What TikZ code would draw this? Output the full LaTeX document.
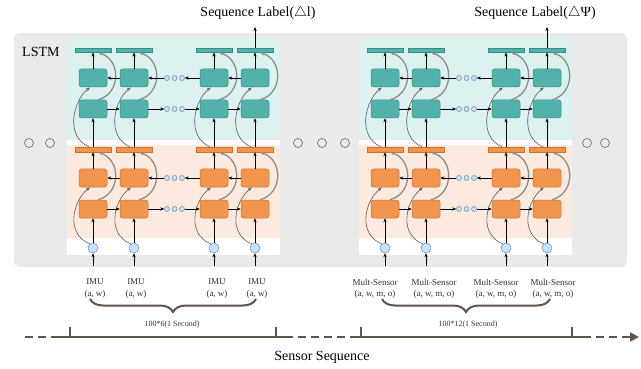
\documentclass[tikz,border=0pt]{standalone}
\usepackage{fontspec}
\setmainfont{Liberation Serif}
\usetikzlibrary{arrows.meta,calc,decorations.pathreplacing}
\definecolor{tealc}{RGB}{82,178,170}
\definecolor{teald}{RGB}{52,140,134}
\definecolor{tealbg}{RGB}{222,241,241}
\definecolor{orc}{RGB}{240,148,78}
\definecolor{ord}{RGB}{205,112,52}
\definecolor{orbg}{RGB}{252,234,222}
\definecolor{panelc}{RGB}{234,234,234}
\definecolor{incf}{RGB}{204,224,242}
\definecolor{incd}{RGB}{110,140,176}
\definecolor{brn}{RGB}{96,84,78}
\begin{document}
\begin{tikzpicture}[x=1pt,y=-1pt,
  tbox/.style={rectangle,rounded corners=2.5pt,minimum width=28pt,minimum height=18pt,fill=tealc,draw=teald,line width=.5pt,inner sep=0pt},
  obox/.style={rectangle,rounded corners=2.5pt,minimum width=28pt,minimum height=18pt,fill=orc,draw=ord,line width=.5pt,inner sep=0pt},
  tbar/.style={rectangle,minimum width=36pt,minimum height=4.5pt,fill=tealc,draw=teald,line width=.4pt,inner sep=0pt},
  obar/.style={rectangle,minimum width=36pt,minimum height=5pt,fill=orc,draw=ord,line width=.4pt,inner sep=0pt},
  inc/.style={circle,minimum size=10pt,inner sep=0pt,fill=incf,draw=incd,line width=.5pt},
  dotc/.style={circle,minimum size=5pt,inner sep=0pt,fill=incf,draw=incd,line width=.5pt},
  hol/.style={circle,minimum size=9pt,inner sep=0pt,draw=black!60,line width=.6pt},
  arr/.style={-{Stealth[length=4pt,width=3.2pt]},line width=.6pt,black},
  lcurve/.style={-{Latex[open,length=4pt,width=3.5pt]},line width=.6pt,black!65},
  rcurve/.style={-{Latex[open,length=4pt,width=3.5pt]},line width=1.3pt,black!45},
  lab/.style={font=\fontsize{9}{10}\selectfont,inner sep=0pt,text=black!80},
  big/.style={font=\fontsize{14}{16}\selectfont,inner sep=0pt},
  tline/.style={line width=2.8pt,brn},
  tdash/.style={line width=2.8pt,brn,dash pattern=on 8pt off 5pt},
  bracest/.style={decorate,decoration={brace,amplitude=13pt,mirror},line width=2pt,brn}
]
\useasboundingbox (0,0) rectangle (641,369);
\fill[white] (0,0) rectangle (641,369);
\fill[panelc,rounded corners=6pt] (14,33) rectangle (627,267);
\node[big,anchor=west] (lstm) at (22,52) {LSTM};
\foreach \p/\x in {h1/29,h2/50,h3/298,h4/322,h5/345,h6/587,h7/605}{
  \node[hol] (\p) at (\x,143) {};
}
\foreach \m/\o in {L/0,R/292}{
  \fill[tealbg] (67+\o,37) rectangle (280+\o,140);
  \fill[white] (67+\o,140) rectangle (280+\o,255);
  \fill[orbg] (67+\o,145) rectangle (280+\o,238);
  \foreach \c/\x in {1/93,2/134,3/214,4/255}{
    \node[inc] (\m-in-\c) at (\x+\o,248) {};
    \node[obox] (\m-ol-\c) at (\x+\o,209) {};
    \node[obox] (\m-ou-\c) at (\x+\o,178) {};
    \node[obar] (\m-ob-\c) at (\x+\o,149.5) {};
    \node[tbox] (\m-tl-\c) at (\x+\o,109) {};
    \node[tbox] (\m-tu-\c) at (\x+\o,78) {};
    \node[tbar] (\m-tb-\c) at (\x+\o,50) {};
    \coordinate (\m-src-\c) at (\x+\o,266);
    \draw[arr] (\m-src-\c) -- (\m-in-\c);
    \draw[arr] (\m-in-\c) -- (\m-ol-\c);
    \draw[arr] (\m-ou-\c) -- (\m-ob-\c);
    \draw[arr] (\m-ob-\c) -- (\m-tl-\c);
    \draw[arr] (\m-tu-\c) -- (\m-tb-\c);
    % curves orange
    \draw[lcurve] ($(\m-in-\c)+(-3,-4)$) .. controls ($(\m-in-\c)+(-28,-14)$) and ($(\m-ou-\c.south)+(-20,14)$) .. ($(\m-ou-\c.south)+(-3,0)$);
    \draw[rcurve] ($(\m-ol-\c.north)+(5,0)$) .. controls ($(\m-ol-\c.north)+(28,-6)$) and ($(\m-ob-\c.south)+(28,8)$) .. ($(\m-ob-\c.south)+(5,0)$);
    % curves teal
    \draw[lcurve] ($(\m-ob-\c.north)+(-4,0)$) .. controls ($(\m-ob-\c.north)+(-28,-10)$) and ($(\m-tu-\c.south)+(-20,14)$) .. ($(\m-tu-\c.south)+(-3,0)$);
    \draw[rcurve] ($(\m-tl-\c.north)+(5,0)$) .. controls ($(\m-tl-\c.north)+(28,-6)$) and ($(\m-tb-\c.south)+(28,8)$) .. ($(\m-tb-\c.south)+(5,0)$);
  }
  \foreach \r/\y in {ol/209,ou/178,tl/109,tu/78}{
    \node[dotc] (\m-\r-d1) at (167+\o,\y) {};
    \node[dotc] (\m-\r-d2) at (174.5+\o,\y) {};
    \node[dotc] (\m-\r-d3) at (182+\o,\y) {};
  }
  \foreach \r in {ol,tl}{
    \draw[arr] (\m-\r-1) -- (\m-\r-2);
    \draw[arr] (\m-\r-2) -- (\m-\r-d1);
    \draw[arr] (\m-\r-d3) -- (\m-\r-3);
    \draw[arr] (\m-\r-3) -- (\m-\r-4);
  }
  \foreach \r in {ou,tu}{
    \draw[arr] (\m-\r-2) -- (\m-\r-1);
    \draw[arr] (\m-\r-d1) -- (\m-\r-2);
    \draw[arr] (\m-\r-3) -- (\m-\r-d3);
    \draw[arr] (\m-\r-4) -- (\m-\r-3);
  }
  \coordinate (\m-out) at (255+\o,27);
  \draw[arr] (\m-tb-4) -- (\m-out);
}
\node[big] (sl1) at (258,13) {Sequence Label($\triangle$l)};
\node[big] (sl2) at (535,13) {Sequence Label($\triangle$Ψ)};
% input labels
\foreach \i/\x in {1/95,2/136,3/217,4/257}{
  \node[lab] (imu\i) at (\x,282) {IMU};
  \node[lab] (aw\i) at (\x,294) {(a, w)};
}
\foreach \i/\x in {1/375,2/434,3/496,4/553}{
  \node[lab] (ms\i) at (\x,282) {Mult-Sensor};
  \node[lab] (awmo\i) at (\x,294) {(a, w, m, o)};
}
\coordinate (bl1) at (90,299);
\coordinate (bl2) at (256,299);
\coordinate (br1) at (382,299);
\coordinate (br2) at (550,299);
\draw[bracest] (bl1) -- (bl2);
\draw[bracest] (br1) -- (br2);
\node[lab,font=\fontsize{8}{9}\selectfont] (bt1) at (172,325) {100*6(1 Second)};
\node[lab,font=\fontsize{8}{9}\selectfont] (bt2) at (468,325) {100*12(1 Second)};
% timeline
\coordinate (t0) at (25,337);
\coordinate (t1) at (58,337);
\coordinate (t2) at (285,337);
\coordinate (t3) at (352,337);
\coordinate (t4) at (583,337);
\coordinate (t5) at (639,337);
\draw[tdash] (t0) -- (t1);
\draw[tline] (t1) -- (t2);
\draw[tdash] (t2) -- (t3);
\draw[tline] (t3) -- (t4);
\draw[tdash,-{Triangle[length=9pt,width=9pt]}] (t4) -- (t5);
\foreach \k/\x in {a/70,b/276,c/361,d/572}{
  \coordinate (tk\k) at (\x,338);
  \coordinate (tu\k) at (\x,327);
  \draw[tline] (tk\k) -- (tu\k);
}
\node[big] (ss) at (322,357) {Sensor Sequence};
\end{tikzpicture}
\end{document}
